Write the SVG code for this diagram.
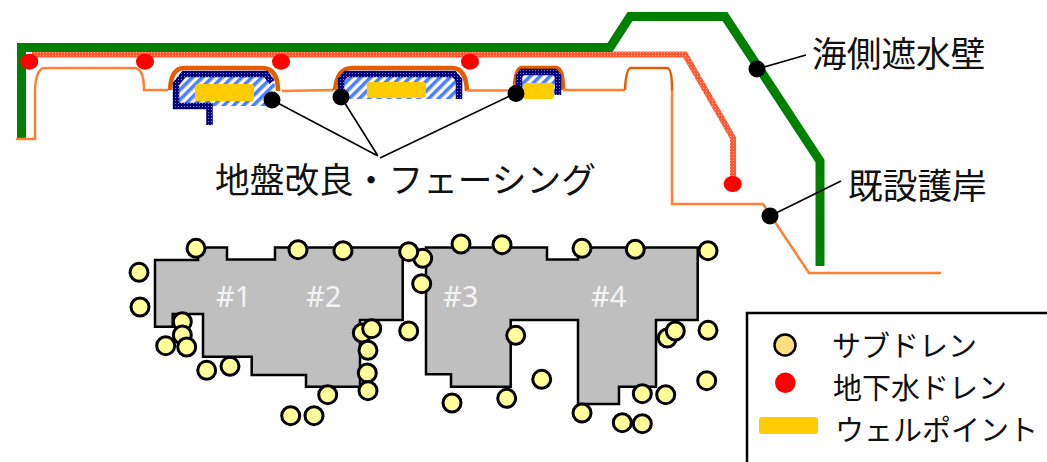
<svg xmlns="http://www.w3.org/2000/svg" width="1047" height="462" viewBox="0 0 1047 462">
<style>
.t{font-family:"Noto Sans CJK JP","Noto Sans",sans-serif;fill:#111}
.big{font-size:34.7px}
.leg{font-size:29px}
.num{font-family:"Noto Sans",sans-serif;font-size:29px;fill:#f4f4f4}
.sd{fill:#ffff99;stroke:#000;stroke-width:3}
.wd{fill:#f00}
.b{fill:#bfbfbf;stroke:#000;stroke-width:2.5}
.o{fill:none;stroke:#ff8033;stroke-width:2.5}
.od{fill:none;stroke:#e65c00;stroke-width:4.5}
.g{fill:none;stroke:#008000;stroke-width:9}
.wp{fill:#ffcc00}
.k{fill:#000}
.l{stroke:#000;stroke-width:1.6;fill:none}
.h{fill:url(#hatch);stroke:none}
.n{fill:none;stroke:url(#navy);stroke-width:6.5}
</style>
<defs>
<pattern id="hatch" width="7" height="7" patternUnits="userSpaceOnUse" patternTransform="rotate(45)">
<rect width="7" height="7" fill="#fff"/><rect width="3.600" height="7" fill="#4d80ff"/>
</pattern>
<pattern id="navy" width="3" height="3" patternUnits="userSpaceOnUse">
<rect width="3" height="3" fill="#00007a"/><rect x="1" y="1" width="1" height="1" fill="#8080c0"/>
</pattern>
<pattern id="red" width="3" height="3" patternUnits="userSpaceOnUse">
<rect width="3" height="3" fill="#ff5a33"/><rect x="1" y="1" width="1" height="1" fill="#ffb09a"/>
</pattern>
</defs>
<g id="band"><path d="M32,54.500 H685 L733,138 V183" fill="none" stroke="url(#red)" stroke-width="6"/></g>
<g id="sea-wall"><path class="g" d="M21.500,138 V47.500 H610 L630,16.500 H725 L820,161 V266"/></g>
<g id="revetment">
<path class="o" d="M16,139 H35 V90 Q36,68 45,68 H134 Q144,68 144,90 H168"/>
<path class="od" d="M170,90 Q171,68 184,68 H262 Q278,68 278,91"/>
<path class="o" d="M282,91 L334,90"/>
<path class="od" d="M335,90 Q337,68 352,68 H452 Q466,68 467,91"/>
<path class="o" d="M467,90.500 H515"/>
<path class="od" d="M515,90 Q515,68 522,68 H556 Q563,68 563,90"/>
<path class="o" d="M563,90 H625"/>
<path class="od" style="stroke-width:2.500" d="M625,90 Q626,68 631,68 H667 Q672,68 672,90"/>
<path class="o" d="M672,90 V204 H763 L809,273 H941"/>
</g>
<g id="improvement-1">
<path class="h" d="M177,85 L185,73 H266 L275,85 V106 H178 Z"/>
<path class="n" d="M209.500,125 V106 H176 L176,84 L184,74 H266 L272,82"/>
<rect class="wp" x="195" y="84" width="59" height="17" rx="3"/>
</g>
<g id="improvement-2">
<path class="h" d="M341,80 L346,73 H455 L461,80 V99 H340 Z"/>
<path class="n" d="M341,96 V80 L346,74 H454 L459,80 V99"/>
<rect class="wp" x="367" y="82" width="59" height="16" rx="3"/>
</g>
<g id="improvement-3">
<path class="h" d="M519,75 H558 V95 H519 Z"/>
<path class="n" d="M519,90 V76 L522,72 H555 L558,76 V95"/>
<rect class="wp" x="523" y="83" width="31" height="16" rx="3"/>
</g>
<g id="buildings">
<path class="b" d="M155,260 H198 V247.500 H227 V259.500 H275 V247.500 H402.700 V320 H360 V386.700 H306 V375 H251.700 V356.700 H203 V314 H172.700 V326.700 H155 Z"/>
<path class="b" d="M426,247.500 H547 V259.500 H578 V247.500 H697.700 V320 H656 V386.700 H619 V404 H578 V320 H510.700 V386.700 H451 V374.300 H426 Z"/>
<text class="num" x="216" y="307">#1</text>
<text class="num" x="306" y="307">#2</text>
<text class="num" x="443" y="307">#3</text>
<text class="num" x="591" y="307">#4</text>
</g>
<g id="subdrains">
<circle class="sd" cx="196" cy="248.300" r="9"/>
<circle class="sd" cx="139" cy="272.300" r="9"/>
<circle class="sd" cx="140" cy="307" r="9"/>
<circle class="sd" cx="182.300" cy="321.700" r="9"/>
<circle class="sd" cx="182.300" cy="335" r="9"/>
<circle class="sd" cx="165.700" cy="345.700" r="9"/>
<circle class="sd" cx="186.700" cy="347" r="9"/>
<circle class="sd" cx="206.700" cy="370.300" r="9"/>
<circle class="sd" cx="230" cy="366.300" r="9"/>
<circle class="sd" cx="298" cy="249.700" r="9"/>
<circle class="sd" cx="343" cy="250.700" r="9"/>
<circle class="sd" cx="422.700" cy="258.300" r="9"/>
<circle class="sd" cx="408.700" cy="251.700" r="9"/>
<circle class="sd" cx="421.700" cy="283.700" r="9"/>
<circle class="sd" cx="408.700" cy="331" r="9"/>
<circle class="sd" cx="362.300" cy="333" r="9"/>
<circle class="sd" cx="371.700" cy="328.700" r="9"/>
<circle class="sd" cx="368" cy="350.300" r="9"/>
<circle class="sd" cx="367.300" cy="373" r="9"/>
<circle class="sd" cx="368" cy="390.700" r="9"/>
<circle class="sd" cx="327.700" cy="394.700" r="9"/>
<circle class="sd" cx="290.700" cy="415.700" r="9"/>
<circle class="sd" cx="314" cy="415.700" r="9"/>
<circle class="sd" cx="461" cy="244" r="9"/>
<circle class="sd" cx="502" cy="244.700" r="9"/>
<circle class="sd" cx="582" cy="248.300" r="9"/>
<circle class="sd" cx="635.300" cy="249.300" r="9"/>
<circle class="sd" cx="708" cy="250.700" r="9"/>
<circle class="sd" cx="515.700" cy="335.300" r="9"/>
<circle class="sd" cx="667.300" cy="338" r="9"/>
<circle class="sd" cx="675.300" cy="331" r="9"/>
<circle class="sd" cx="708" cy="330.300" r="9"/>
<circle class="sd" cx="541.700" cy="379.300" r="9"/>
<circle class="sd" cx="706.700" cy="380.700" r="9"/>
<circle class="sd" cx="452" cy="403" r="9"/>
<circle class="sd" cx="506.700" cy="398.300" r="9"/>
<circle class="sd" cx="582" cy="413" r="9"/>
<circle class="sd" cx="642.300" cy="393.700" r="9"/>
<circle class="sd" cx="665.700" cy="394.700" r="9"/>
<circle class="sd" cx="622.300" cy="422.700" r="9"/>
<circle class="sd" cx="642.300" cy="423.700" r="9"/>
</g>
<g id="groundwater-drains">
<ellipse class="wd" cx="29.300" cy="61.700" rx="9" ry="8"/>
<ellipse class="wd" cx="145" cy="61.700" rx="9" ry="8"/>
<ellipse class="wd" cx="281" cy="61.700" rx="9" ry="8"/>
<ellipse class="wd" cx="470" cy="61.700" rx="9" ry="8"/>
<ellipse class="wd" cx="732.700" cy="184" rx="9" ry="8"/>
</g>
<g id="connectors">
<path class="l" d="M272,100 L378,156 M341,97 L378,156 M516,93 L380,158 M757,69 L806,55 M770,216 L841,181"/>
<circle class="k" cx="272" cy="100" r="8.500"/>
<circle class="k" cx="341" cy="97" r="8.500"/>
<circle class="k" cx="516" cy="93.500" r="8.500"/>
<circle class="k" cx="757" cy="69" r="8.500"/>
<circle class="k" cx="770" cy="216" r="8.500"/>
</g>
<g id="labels">
<text class="t big" x="215" y="193">地盤改良・フェーシング</text>
<text class="t big" x="812" y="67">海側遮水壁</text>
<text class="t big" x="848" y="199">既設護岸</text>
</g>
<g id="legend">
<path d="M1047,313 H747 V462" fill="none" stroke="#000" stroke-width="2.500"/>
<circle cx="785" cy="345" r="10.500" fill="#ffe080" stroke="#000" stroke-width="2.500"/>
<circle class="wd" cx="785.300" cy="382.700" r="10.300"/>
<rect class="wp" x="759" y="417" width="59" height="17" rx="3"/>
<text class="t leg" x="832" y="357">サブドレン</text>
<text class="t leg" x="833" y="399">地下水ドレン</text>
<text class="t leg" x="835" y="441">ウェルポイント</text>
</g>
</svg>
